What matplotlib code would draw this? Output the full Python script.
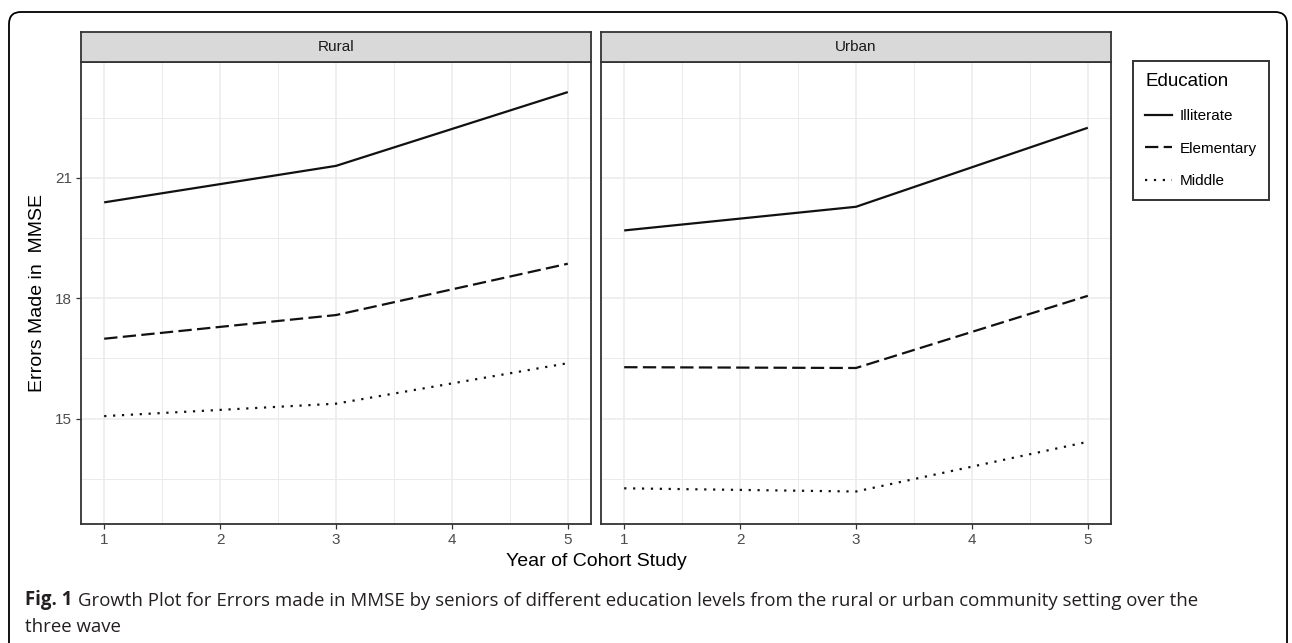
import matplotlib
matplotlib.use("Agg")
import matplotlib.pyplot as plt
from matplotlib.lines import Line2D
from matplotlib.patches import FancyBboxPatch
from matplotlib.ticker import MultipleLocator

# data (three waves: years 1, 3, 5)
waves = [1, 3, 5]
settings = ["Rural", "Urban"]
education = ["Illiterate", "Elementary", "Middle"]
rural_illiterate = [20.39, 21.30, 23.14]
rural_elementary = [16.99, 17.58, 18.86]
rural_middle = [15.06, 15.37, 16.38]
urban_illiterate = [19.69, 20.28, 22.25]
urban_elementary = [16.28, 16.26, 18.06]
urban_middle = [13.26, 13.18, 14.42]
x_ticks = [1, 2, 3, 4, 5]
y_ticks = [15, 18, 21]

series = {
    "Rural": [rural_illiterate, rural_elementary, rural_middle],
    "Urban": [urban_illiterate, urban_elementary, urban_middle],
}

line_styles = ["-", (0, (6, 2.4)), (0, (1, 3))]
LINE_COLOR = "#111111"
EDGE = "#333333"
CHART_FONT = "Liberation Sans"
CAPTION_FONT = "Open Sans"

W, H = 1292, 643
fig = plt.figure(figsize=(W / 100, H / 100), dpi=100)


def box(left, top, right, bottom):
    # pixel box -> figure fraction rect
    return [left / W, 1 - bottom / H, (right - left) / W, (bottom - top) / H]


# outer rounded frame, drawn in pixel units
bg = fig.add_axes([0, 0, 1, 1])
bg.set_xlim(0, W)
bg.set_ylim(H, 0)
bg.axis("off")
bg.add_patch(FancyBboxPatch((9, 12), 1278, 700,
                            boxstyle="round,pad=0,rounding_size=12",
                            fc="white", ec="black", lw=1.3))

panels = {"Rural": (81, 62, 591, 524), "Urban": (601, 62, 1111, 524)}
strip_top = 32

for i, name in enumerate(settings):
    l, t, r, b = panels[name]
    ax = fig.add_axes(box(l, t, r, b))
    for vals, ls in zip(series[name], line_styles):
        ax.plot(waves, vals, color=LINE_COLOR, lw=1.6, linestyle=ls,
                solid_capstyle="butt", dash_capstyle="butt")
    ax.set_xlim(0.8, 5.2)
    ax.set_ylim(12.37, 23.89)
    ax.set_xticks(x_ticks)
    ax.set_yticks(y_ticks)
    ax.xaxis.set_minor_locator(MultipleLocator(0.5))
    ax.yaxis.set_minor_locator(MultipleLocator(1.5))
    ax.grid(which="major", color="#EBEBEB", lw=1.1)
    ax.grid(which="minor", color="#EBEBEB", lw=0.7)
    ax.set_axisbelow(True)
    ax.tick_params(which="minor", length=0)
    ax.tick_params(which="major", length=3.5, width=0.9, color=EDGE,
                   pad=3, labelsize=11, labelcolor="#4D4D4D")
    for lab in ax.get_xticklabels() + ax.get_yticklabels():
        lab.set_fontfamily(CHART_FONT)
    if i > 0:
        ax.tick_params(axis="y", left=False, labelleft=False)
    for sp in ax.spines.values():
        sp.set_color(EDGE)
        sp.set_linewidth(1.3)

    # facet strip
    st = fig.add_axes(box(l, strip_top, r, t))
    st.set_facecolor("#D9D9D9")
    st.set_xticks([])
    st.set_yticks([])
    for sp in st.spines.values():
        sp.set_color(EDGE)
        sp.set_linewidth(1.3)
    st.text(0.5, 0.5, name, ha="center", va="center", fontsize=11,
            color="#1A1A1A", family=CHART_FONT, transform=st.transAxes)

fig.text(38 / W, 1 - 293 / H, "Errors Made in  MMSE", rotation=90,
         ha="center", va="center", fontsize=14, family=CHART_FONT)
fig.text(596 / W, 1 - 561 / H, "Year of Cohort Study",
         ha="center", va="center", fontsize=14, family=CHART_FONT)

handles = [Line2D([], [], color=LINE_COLOR, lw=1.6, linestyle=ls)
           for ls in line_styles]
leg = fig.legend(handles, education, title="Education",
                 loc="upper left", bbox_to_anchor=(1133 / W, 1 - 61 / H),
                 frameon=True, fancybox=False, edgecolor="black",
                 prop={"family": CHART_FONT, "size": 11},
                 title_fontproperties={"family": CHART_FONT, "size": 13.5},
                 alignment="left", handlelength=1.75, handletextpad=0.5,
                 labelspacing=1.22, borderpad=0.8, borderaxespad=0)
leg.get_frame().set_linewidth(1.4)

# caption
CAP_SIZE = 13.4
cap = fig.text(25 / W, 1 - 600 / H, "Fig. 1", fontsize=CAP_SIZE,
               fontweight="bold", family=CAPTION_FONT, color="#231F20",
               ha="left", va="center")
bg.annotate("Growth Plot for Errors made in MMSE by seniors of different "
            "education levels from the rural or urban community setting "
            "over the",
            xy=(1, 0), xycoords=cap, xytext=(4, 0), textcoords="offset points",
            ha="left", va="bottom", fontsize=CAP_SIZE, family=CAPTION_FONT,
            color="#231F20")
fig.text(25 / W, 1 - 627 / H, "three wave", fontsize=CAP_SIZE,
         family=CAPTION_FONT, color="#231F20", ha="left", va="center")

fig.savefig("out.png", dpi=100)
